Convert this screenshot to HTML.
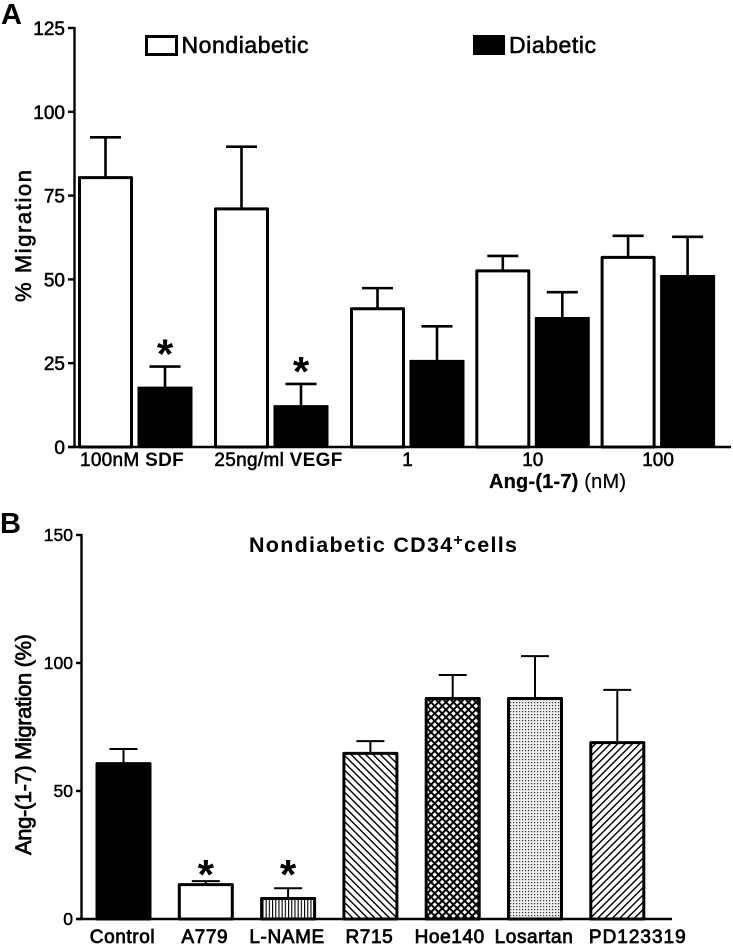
<!DOCTYPE html>
<html lang="en">
<head>
<meta charset="utf-8">
<title>Migration bar charts</title>
<style>
html,body{margin:0;padding:0;background:#fff;}
svg{display:block;}
text{font-family:"Liberation Sans",Arial,sans-serif;fill:#000;}
.tick{font-size:19px;stroke:#000;stroke-width:.55px;}
.tickb{font-size:17.5px;stroke:#000;stroke-width:.45px;}
.cat{font-size:19px;stroke:#000;stroke-width:.75px;}
.bold{font-weight:bold;}
</style>
</head>
<body>
<svg id="chart" xmlns="http://www.w3.org/2000/svg" width="733" height="946" viewBox="0 0 733 946">
  <defs>
    <pattern id="p-vert" width="3.2" height="8" patternUnits="userSpaceOnUse"><rect width="3.2" height="8" fill="#fff"/><rect width="1.1" height="8" fill="#000"/></pattern>
    <pattern id="p-back" width="5.2" height="5.2" patternUnits="userSpaceOnUse" patternTransform="rotate(-45)"><rect width="5.2" height="5.2" fill="#fff"/><rect width="1.4" height="5.2" fill="#000"/></pattern>
    <pattern id="p-fwd" width="5.2" height="5.2" patternUnits="userSpaceOnUse" patternTransform="rotate(45)"><rect width="5.2" height="5.2" fill="#fff"/><rect width="1.4" height="5.2" fill="#000"/></pattern>
    <pattern id="p-cross" width="5.3" height="5.3" patternUnits="userSpaceOnUse" patternTransform="rotate(45)"><rect width="5.3" height="5.3" fill="#fff"/><rect width="2" height="5.3" fill="#000"/><rect width="5.3" height="2" fill="#000"/></pattern>
    <pattern id="p-dots" width="3" height="3" patternUnits="userSpaceOnUse"><rect width="3" height="3" fill="#eee"/><rect width="1.2" height="1.2" fill="#333"/></pattern>
  </defs>

  <text class="bold" x="1" y="24" font-size="29">A</text>
  <text class="bold" x="0" y="533" font-size="29">B</text>

  <rect x="146.5" y="36.5" width="30" height="18" fill="#fff" stroke="#000" stroke-width="3"/>
  <text x="181.5" y="53" font-size="23" textLength="127" lengthAdjust="spacing" stroke="#000" stroke-width=".6">Nondiabetic</text>
  <rect x="473" y="35" width="32" height="20" fill="#000"/>
  <text x="509" y="53" font-size="23" textLength="87" lengthAdjust="spacing" stroke="#000" stroke-width=".6">Diabetic</text>

  <text transform="translate(31,302) rotate(-90)" font-size="22" textLength="132" lengthAdjust="spacing" stroke="#000" stroke-width=".6">% Migration</text>
  <text transform="translate(31,855) rotate(-90)" font-size="22" textLength="221" lengthAdjust="spacing" stroke="#000" stroke-width=".7">Ang-(1-7) Migration (%)</text>
  <text x="489" y="488" font-size="20" textLength="137" lengthAdjust="spacing" stroke="#000" stroke-width=".25"><tspan class="bold">Ang-(1-7)</tspan> (nM)</text>
  <text class="bold" x="249" y="552" font-size="21.5" textLength="268" lengthAdjust="spacing">Nondiabetic CD34<tspan dy="-7" font-size="16">+</tspan><tspan dy="7">cells</tspan></text>
</svg>
<script>
// Panel A data
const groupLabelsA = ["100nM SDF", "25ng/ml VEGF", "1", "10", "100"];
const nondiabetic = [80.8, 71.5, 41.7, 53, 57];
const nondiabeticErr = [92.4, 89.6, 47.4, 57, 63];
const diabetic = [18, 12.5, 26, 38.8, 51.3];
const diabeticErr = [24, 18.8, 36, 46.2, 62.7];
const starsA = [true, true, false, false, false];
const ticksA = [0, 25, 50, 75, 100, 125];

// Panel B data
const categoriesB = ["Control", "A779", "L-NAME", "R715", "Hoe140", "Losartan", "PD123319"];
const valuesB = [61.3, 14, 8.6, 65.3, 86.7, 86.7, 69.5];
const errTopB = [66.4, 14.8, 12, 69.5, 95.3, 102.7, 89.5];
const fillsB = ["#000", "#fff", "url(#p-vert)", "url(#p-back)", "url(#p-cross)", "url(#p-dots)", "url(#p-fwd)"];
const starsB = [null, 21.5, 21.5, null, null, null, null];
const ticksB = [0, 50, 100, 150];

const svg = document.getElementById('chart');
const NS = 'http://www.w3.org/2000/svg';

function el(tag, attrs, text) {
  const e = document.createElementNS(NS, tag);
  for (const k in attrs) e.setAttribute(k, attrs[k]);
  if (text !== undefined) e.textContent = text;
  svg.appendChild(e);
  return e;
}
function slug(s) {
  return String(s).toLowerCase().replace(/[^a-z0-9]+/g, '-');
}

// Axis functions
const yA = v => 447 - v * (419 / 125);
const yB = v => 919 - v * (384 / 150);
const barW = 55;
const xA = (g, s) => 78 + g * 136 - (g > 2 ? (g - 2) * 10.7 : 0) + s * 59.5;
const xB = i => 95.5 + i * 82.3;

function drawBar(x, w, top, base, fill, sw, prefix) {
  const r = el('rect', {
    x: x + sw / 2, y: top + sw / 2, width: w - sw, height: base - top - sw / 2,
    fill: fill, stroke: '#000', 'stroke-width': sw, 'stroke-linejoin': 'round'
  });
  
  
}
function drawErr(cx, top, errY, capW, sw, prefix) {
  const v = el('line', { x1: cx, x2: cx, y1: errY, y2: top + 1, stroke: '#000', 'stroke-width': sw });
  
  
  const c = el('line', { x1: cx - capW / 2, x2: cx + capW / 2, y1: errY, y2: errY, stroke: '#000', 'stroke-width': sw });
  
  
}
function drawStar(cx, cy, prefix) {
  const s = el('text', { x: cx, y: cy + 25, 'text-anchor': 'middle', 'font-size': 42, 'font-weight': 'bold' }, '*');
  
  
}

// Panel A bars
groupLabelsA.forEach((g, i) => {
  const n = 'panel-a-' + slug(g);
  const wx = xA(i, 0);
  const bx = xA(i, 1);
  drawErr(wx + barW / 2, yA(nondiabetic[i]), yA(nondiabeticErr[i]), 31, 2.6, n + '-nondiabetic');
  drawBar(wx, barW, yA(nondiabetic[i]), 447, '#fff', 3, n + '-nondiabetic-bar');
  drawErr(bx + barW / 2, yA(diabetic[i]), yA(diabeticErr[i]), 31, 2.6, n + '-diabetic');
  drawBar(bx, barW, yA(diabetic[i]), 447, '#000', 1, n + '-diabetic-bar');
  if (starsA[i]) drawStar(bx + barW / 2, yA(diabeticErr[i]) - 23, n);
  const nudge = i === 0 ? -3.5 : i === 1 ? 7 : 0;
  const lab = el('text', { x: wx + barW + 2.5 + nudge, y: 466, 'text-anchor': 'middle', class: 'tick', 'letter-spacing': i < 2 ? '.3' : '0' });
  const parts = g.split(' ');
  lab.appendChild(document.createTextNode(parts[0] + (parts[1] ? ' ' : '')));
  if (parts[1]) {
    const b = document.createElementNS(NS, 'tspan');
    b.setAttribute('font-weight', 'bold');
    b.setAttribute('stroke-width', '0');
    b.textContent = parts[1];
    lab.appendChild(b);
  }
  
  
});

// Panel A axes
const axA1 = el('line', { x1: 74.5, x2: 74.5, y1: 27, y2: 448, stroke: '#000', 'stroke-width': 2.4 });


const axA2 = el('line', { x1: 68, x2: 731, y1: 447, y2: 447, stroke: '#000', 'stroke-width': 2.4 });


ticksA.forEach(t => {
  const m = el('line', { x1: 68, x2: 75, y1: yA(t), y2: yA(t), stroke: '#000', 'stroke-width': 2.4 });
  
  
  const l = el('text', { x: 65, y: yA(t) + 7, 'text-anchor': 'end', class: 'tick' }, t);
  
  
});

// Panel B bars
categoriesB.forEach((c, i) => {
  const n = 'panel-b-' + slug(c);
  const x = xB(i);
  const cx = x + 28;
  drawErr(cx, yB(valuesB[i]), yB(errTopB[i]), 28, 2, n);
  drawBar(x, 56, yB(valuesB[i]), 919, fillsB[i], 3, n + '-bar');
  if (starsB[i] !== null) drawStar(cx, yB(starsB[i]), n);
  const lx = i === 6 ? cx + 20.5 : i === 4 ? cx - 3 : cx - 1;
  const lab = el('text', { x: lx, y: 943, 'text-anchor': 'middle', class: 'cat', 'letter-spacing': i === 6 ? '1' : '.6' }, c);
  
  
});

// Panel B axes
const axB1 = el('line', { x1: 81.5, x2: 81.5, y1: 534, y2: 920, stroke: '#000', 'stroke-width': 2.4 });


const axB2 = el('line', { x1: 76, x2: 672, y1: 919, y2: 919, stroke: '#000', 'stroke-width': 2.4 });


ticksB.forEach(t => {
  const m = el('line', { x1: 76, x2: 82, y1: yB(t), y2: yB(t), stroke: '#000', 'stroke-width': 2.4 });
  
  
  const l = el('text', { x: 73, y: yB(t) + 6, 'text-anchor': 'end', class: 'tickb' }, t);
  
  
});
</script>
</body>
</html>
